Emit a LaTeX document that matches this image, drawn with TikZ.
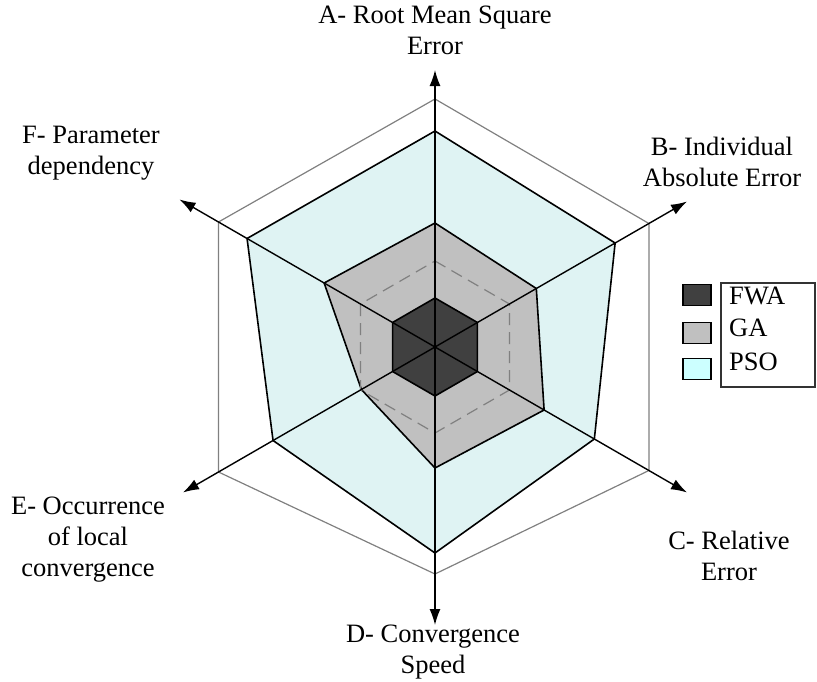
\documentclass[tikz,border=0pt]{standalone}
\usepackage{fontspec}
\setmainfont{Liberation Serif}
\usetikzlibrary{arrows.meta, positioning}
\definecolor{fwagray}{RGB}{64, 64, 64}
\definecolor{gagray}{RGB}{192, 192, 192}
\definecolor{psocyan}{RGB}{223, 243, 243}
\definecolor{psokey}{RGB}{204, 255, 255}
\definecolor{framegray}{RGB}{128, 128, 128}

\begin{document}
\begin{tikzpicture}[
    x=1pt, y=1pt,
    axis/.style={-{Latex[length=16pt, width=11pt]}, line width=1.4pt, black},
    ring/.style={draw=framegray, line width=1.2pt},
    score/.style={draw=black, line width=1.6pt, line join=miter},
    axislabel/.style={font=\fontsize{26.5}{31}\selectfont, align=center, inner sep=0pt},
    swatch/.style={draw=black, line width=1.4pt, minimum width=28pt, minimum height=21pt, inner sep=0pt},
    keytext/.style={font=\fontsize{26.5}{31}\selectfont, anchor=west, inner sep=0pt}
]
\useasboundingbox (-435,-334) rectangle (382,347);
\coordinate (O) at (0,0);

% outer frame
\draw[ring] (90:248) -- (30:247) -- (-30:247) -- (-90:227) -- (210:250) -- (150:250) -- cycle;

% PSO
\filldraw[score, fill=psocyan] (90:216) -- (30:208) -- (-30:184) -- (-90:206) -- (210:187) -- (150:217) -- cycle;

% GA
\filldraw[score, fill=gagray] (90:124) -- (30:117) -- (-30:126) -- (-90:121) -- (210:85) -- (150:128) -- cycle;

% dashed reference ring
\draw[ring, dash pattern=on 12pt off 7pt] (90:86) -- (30:86) -- (-30:86) -- (-90:86) -- (210:86) -- (150:86) -- cycle;

% FWA
\filldraw[score, fill=fwagray] (90:49) -- (30:49) -- (-30:49) -- (-90:49) -- (210:49) -- (150:49) -- cycle;

% axes
\foreach \name/\ang/\len in {A/90/277, B/30/291, C/-30/291, D/-90/278, E/210/291, F/150/295} {
    \coordinate (tip\name) at (\ang:\len);
    \draw[axis] (O) -- (tip\name);
}

% axis labels
\node[axislabel] (labA) at (0,317) {A- Root Mean Square\\Error};
\node[axislabel] (labB) at (287,185) {B- Individual\\Absolute Error};
\node[axislabel] (labC) at (294,-209) {C- Relative\\Error};
\node[axislabel] (labD) at (-2,-305) {D- Convergence\\Speed};
\node[axislabel] (labE) at (-347,-193) {E- Occurrence\\of local\\convergence};
\node[axislabel] (labF) at (-344,194) {F- Parameter\\dependency};

% legend
\draw[draw=black!80, line width=1.2pt] (286,64) rectangle (380,-40);
\node[swatch, fill=fwagray] (keyFWA) at (262,52) {};
\node[swatch, fill=gagray] (keyGA) at (262,14) {};
\node[swatch, fill=psokey] (keyPSO) at (262,-22) {};
\node[keytext] (txtFWA) at (294,51) {FWA};
\node[keytext] (txtGA) at (294,19) {GA};
\node[keytext] (txtPSO) at (294,-15) {PSO};

\end{tikzpicture}
\end{document}
